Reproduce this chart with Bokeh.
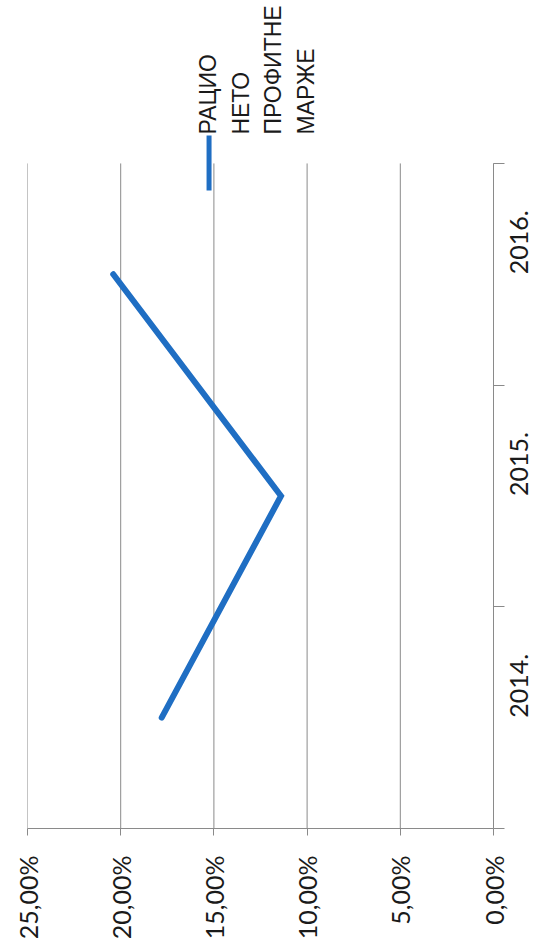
import math
from bokeh.plotting import figure
from bokeh.models import Range1d, FixedTicker, Label, Arrow
from bokeh.embed import file_html
from bokeh.resources import INLINE

# ---- data ----
years = ["2014.", "2015.", "2016."]
net_profit_margin_pct = [17.8, 11.4, 20.4]
value_ticks = [0, 5, 10, 15, 20, 25]
value_tick_labels = ["0,00%", "5,00%", "10,00%", "15,00%", "20,00%", "25,00%"]
legend_lines = ["РАЦИО", "НЕТО", "ПРОФИТНЕ", "МАРЖЕ"]

BLUE = "#1F6EC3"
GREY = "#8a8a8a"
TEXT = "#1a1a1a"

n_cat = len(years)
cat_centers = [i + 0.5 for i in range(n_cat)]
cat_bounds = [float(i) for i in range(n_cat + 1)]
legend_room = 0.735  # space above the categories, in category units

p = figure(width=540, height=946,
           x_range=Range1d(25, 0), y_range=Range1d(0, n_cat + legend_room),
           output_backend="svg", toolbar_location=None,
           y_axis_location="right",
           min_border_left=27, min_border_right=46,
           min_border_top=0, min_border_bottom=118)
p.outline_line_color = None
p.background_fill_color = "white"
p.border_fill_color = "white"

# value axis (bottom, rotated labels)
xa = p.xaxis[0]
xa.ticker = FixedTicker(ticks=value_ticks, minor_ticks=[])
xa.major_label_overrides = {t: l for t, l in zip(value_ticks, value_tick_labels)}
xa.axis_line_color = GREY
xa.major_tick_line_color = GREY
xa.major_tick_out = 7
xa.major_tick_in = 0
xa.minor_tick_line_color = None
xa.major_label_orientation = math.pi / 2
xa.major_label_standoff = 20
xa.major_label_text_font = "Lato"
xa.major_label_text_font_size = "25px"
xa.major_label_text_color = TEXT

# category axis (right, ticks at category boundaries)
ya = p.yaxis[0]
ya.bounds = (0, n_cat)
ya.ticker = FixedTicker(ticks=cat_centers, minor_ticks=cat_bounds)
ya.major_label_overrides = {c: y for c, y in zip(cat_centers, years)}
ya.axis_line_color = GREY
ya.major_tick_line_color = None
ya.major_tick_out = 0
ya.major_tick_in = 0
ya.minor_tick_line_color = GREY
ya.minor_tick_out = 11
ya.minor_tick_in = 0
ya.major_label_orientation = math.pi / 2
ya.major_label_standoff = 15
ya.major_label_text_font = "Lato"
ya.major_label_text_font_size = "25px"
ya.major_label_text_color = TEXT

# value gridlines, only over the category area
p.xgrid.visible = False
p.ygrid.visible = False
p.segment(x0=value_ticks, y0=[0] * len(value_ticks),
          x1=value_ticks, y1=[n_cat] * len(value_ticks),
          line_color=GREY, line_width=1, level="underlay")

p.line(net_profit_margin_pct, cat_centers, line_color=BLUE, line_width=6,
       line_cap="round", line_join="miter")

# legend (rotated like the rest of the chart)
p.add_layout(Arrow(start=None, end=None, x_start=15.26, y_start=n_cat + 0.126,
                   x_end=15.26, y_end=n_cat - 0.122, line_color=BLUE, line_width=5))
for i, txt in enumerate(legend_lines):
    p.add_layout(Label(x=15.31 - i * 1.75, y=n_cat + 0.13, text=txt, angle=math.pi / 2,
                       text_align="left", text_baseline="alphabetic",
                       text_font="Liberation Sans", text_font_size="23px",
                       text_color=TEXT))

open("out.html", "w").write(file_html(p, INLINE))
